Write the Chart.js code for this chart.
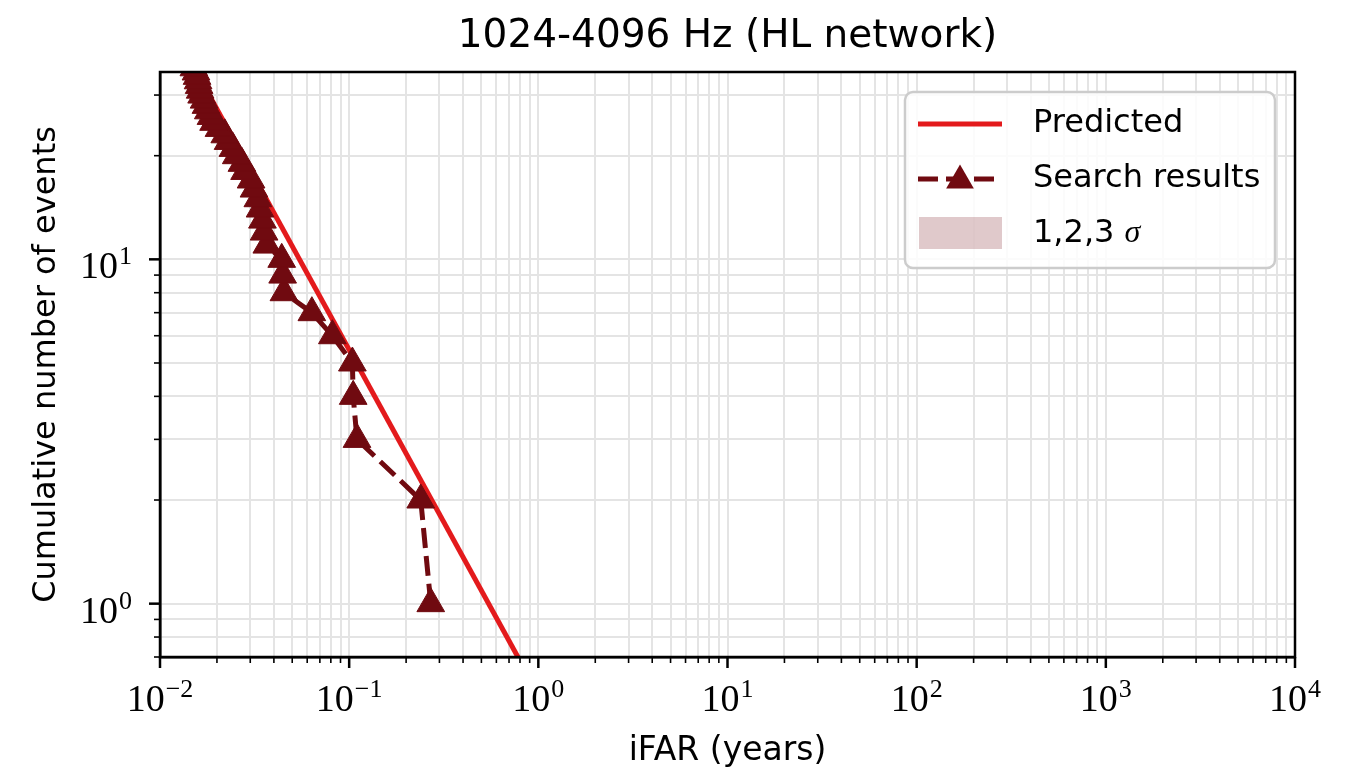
<!DOCTYPE html>
<html>
<head>
<meta charset="utf-8">
<script src="https://cdn.jsdelivr.net/npm/chart.js@4"></script>
<style>
html, body { margin: 0; padding: 0; background: #fff; }
</style>
</head>
<body>
<canvas id="myChart" width="1345" height="773"></canvas>
<script>
// search results: cumulative count vs iFAR (years)
const searchIfar = [0.270, 0.239, 0.110, 0.105, 0.104, 0.0815, 0.0635, 0.0452, 0.0445, 0.0440,
  0.0367, 0.0355, 0.0348, 0.0338, 0.0329, 0.0314, 0.0303, 0.0280, 0.0271, 0.0253,
  0.0243, 0.0229, 0.0220, 0.0205, 0.0192, 0.0186, 0.0180, 0.0175, 0.0171, 0.0166,
  0.0163, 0.0161, 0.0159, 0.0157, 0.0155, 0.0151, 0.0148];
const searchCount = [1, 2, 3, 4, 5, 6, 7, 8, 9, 10,
  11, 12, 13, 14, 15, 16, 17, 18, 19, 20,
  21, 22, 23, 24, 25, 26, 27, 28, 29, 30,
  31, 32, 33, 34, 35, 36, 37];

// predicted background line (end points)
const predIfar = [0.01, 1.0];
const predCount = [54.6, 0.546];

// axis ticks: powers of ten get a label "10" + exponent
const xMajor = [0.01, 0.1, 1, 10, 100, 1000, 10000];
const xMajorExp = ['−2', '−1', '0', '1', '2', '3', '4'];
const yMajor = [1, 10];
const yMajorExp = ['0', '1'];
const minorSteps = [2, 3, 4, 5, 6, 7, 8, 9];
const yMinorTicks = [0.7, 0.8, 0.9, 2, 3, 4, 5, 6, 7, 8, 9, 20, 30];

const titleText = '1024-4096 Hz (HL network)';
const labelPredicted = 'Predicted';
const labelSearch = 'Search results';
const labelSigma = '1,2,3 ';

const darkRed = 'rgb(112,10,16)';
const red = 'rgb(227,26,28)';
const sigmaFill = 'rgba(112,10,16,0.22)';

const sansFont = "'DejaVu Sans', sans-serif";
const serifFont = "'Liberation Serif', 'DejaVu Serif', serif";

let xTicks = [];
xMajor.forEach((m, i) => {
  xTicks.push(m);
  if (i < xMajor.length - 1) minorSteps.forEach(k => xTicks.push(+(m * k).toPrecision(3)));
});
let yTicks = yMajor.concat(yMinorTicks).sort((a, b) => a - b);

function isClose(a, b) { return Math.abs(a - b) / b < 1e-6; }

//exponente de la potencia de 10, o null si es menor
function majorExp(value, majors, exps) {
  for (let i = 0; i < majors.length; i++) {
    if (isClose(value, majors[i])) return exps[i];
  }
  return null;
}

//dibuja "10" con exponente; ax = alineacion ('center' o 'right')
function drawPow(ctx, exp, x, baseY, ax) {
  ctx.font = '38px ' + serifFont;
  const wb = ctx.measureText('10').width;
  ctx.font = '26px ' + serifFont;
  const we = ctx.measureText(exp).width;
  const total = wb + 1 + we;
  const left = ax === 'center' ? x - total / 2 : x - total;
  ctx.font = '38px ' + serifFont;
  ctx.fillText('10', left, baseY);
  ctx.font = '26px ' + serifFont;
  ctx.fillText(exp, left + wb + 1, baseY - 14);
}

//titulo, marcas de ejes, etiquetas y marco
const framePlugin = {
  id: 'framePlugin',
  afterDraw(chart) {
    const ctx = chart.ctx;
    const a = chart.chartArea;
    const xs = chart.scales.x, ys = chart.scales.y;
    ctx.save();
    ctx.fillStyle = '#000';
    ctx.font = '39px ' + sansFont;
    ctx.textAlign = 'center';
    ctx.textBaseline = 'alphabetic';
    ctx.fillText(titleText, (a.left + a.right) / 2, 47);
    ctx.textAlign = 'left';

    ctx.strokeStyle = '#000';
    xs.ticks.forEach(t => {
      const px = xs.getPixelForValue(t.value);
      const exp = majorExp(t.value, xMajor, xMajorExp);
      ctx.lineWidth = exp !== null ? 2.5 : 1.6;
      ctx.beginPath();
      ctx.moveTo(px, a.bottom);
      ctx.lineTo(px, a.bottom + (exp !== null ? 11 : 6));
      ctx.stroke();
      if (exp !== null) drawPow(ctx, exp, px, a.bottom + 54, 'center');
    });
    ys.ticks.forEach(t => {
      const py = ys.getPixelForValue(t.value);
      const exp = majorExp(t.value, yMajor, yMajorExp);
      ctx.lineWidth = exp !== null ? 2.5 : 1.6;
      ctx.beginPath();
      ctx.moveTo(a.left, py);
      ctx.lineTo(a.left - (exp !== null ? 11 : 6), py);
      ctx.stroke();
      if (exp !== null) drawPow(ctx, exp, a.left - 28, py + 19, 'right');
    });
    ctx.lineWidth = 2.5;
    ctx.strokeRect(a.left, a.top, a.right - a.left, a.bottom - a.top);
    ctx.restore();
  }
};

//leyenda dentro del grafico
const legendPlugin = {
  id: 'legendPlugin',
  afterDraw(chart) {
    const ctx = chart.ctx;
    const a = chart.chartArea;
    const w = 370, h = 176;
    const x0 = a.right - 20 - w, y0 = a.top + 20;
    ctx.save();
    ctx.fillStyle = 'rgba(255,255,255,0.85)';
    ctx.strokeStyle = '#cccccc';
    ctx.lineWidth = 2.5;
    ctx.beginPath();
    ctx.roundRect(x0, y0, w, h, 8);
    ctx.fill();
    ctx.stroke();

    const hx0 = x0 + 13, hx1 = x0 + 97, tx = x0 + 128;
    const rows = [y0 + 32, y0 + 87, y0 + 142];

    ctx.strokeStyle = red;
    ctx.lineWidth = 5;
    ctx.beginPath();
    ctx.moveTo(hx0, rows[0]);
    ctx.lineTo(hx1, rows[0]);
    ctx.stroke();

    ctx.strokeStyle = darkRed;
    ctx.setLineDash([20, 8]);
    ctx.beginPath();
    ctx.moveTo(hx0, rows[1]);
    ctx.lineTo(hx1, rows[1]);
    ctx.stroke();
    ctx.setLineDash([]);
    const mx = (hx0 + hx1) / 2, my = rows[1], r = 16;
    ctx.fillStyle = darkRed;
    ctx.beginPath();
    ctx.moveTo(mx, my - r * 0.9);
    ctx.lineTo(mx + r * 0.866, my + r * 0.6);
    ctx.lineTo(mx - r * 0.866, my + r * 0.6);
    ctx.closePath();
    ctx.fill();

    ctx.fillStyle = sigmaFill;
    ctx.fillRect(hx0 + 1, rows[2] - 17, hx1 - hx0 - 1, 32);

    ctx.fillStyle = '#000';
    ctx.textBaseline = 'middle';
    ctx.font = '32px ' + sansFont;
    ctx.fillText(labelPredicted, tx, rows[0]);
    ctx.fillText(labelSearch, tx, rows[1]);
    ctx.fillText(labelSigma, tx, rows[2]);
    const sw = ctx.measureText(labelSigma).width;
    ctx.font = 'italic 32px ' + serifFont;
    ctx.fillText('σ', tx + sw, rows[2]);
    ctx.restore();
  }
};

const chart = new Chart('myChart', {
  type: 'scatter',
  data: {
    datasets: [{
      label: labelSearch,
      data: searchIfar.map((v, i) => ({ x: v, y: searchCount[i] })),
      showLine: true,
      borderColor: darkRed,
      backgroundColor: darkRed,
      borderWidth: 5,
      borderDash: [20, 8],
      pointStyle: 'triangle',
      pointRadius: 16,
      pointHoverRadius: 16,
      pointBorderWidth: 1,
      order: 0
    }, {
      label: labelPredicted,
      data: predIfar.map((v, i) => ({ x: v, y: predCount[i] })),
      showLine: true,
      borderColor: red,
      backgroundColor: red,
      borderWidth: 5,
      pointRadius: 0,
      pointHoverRadius: 0,
      order: 1
    }, {
      label: labelSigma + 'σ',
      data: [],
      backgroundColor: sigmaFill,
      borderWidth: 0,
      order: 2
    }]
  },
  options: {
    responsive: false,
    animation: false,
    devicePixelRatio: 1,
    layout: { padding: { left: 0, right: 50, top: 72, bottom: 0 } },
    plugins: {
      legend: { display: false },
      tooltip: { enabled: false },
      title: { display: false }
    },
    scales: {
      x: {
        type: 'logarithmic',
        min: 0.01,
        max: 10000,
        afterBuildTicks: s => { s.ticks = xTicks.map(v => ({ value: v })); },
        afterFit: s => { s.height = 116; },
        grid: { color: '#e4e4e4', lineWidth: 2, drawTicks: false },
        border: { color: '#000', width: 2.5 },
        ticks: { display: false, autoSkip: false },
        title: {
          display: true,
          text: 'iFAR (years)',
          color: '#000',
          font: { family: sansFont, size: 33 },
          padding: { top: 0, bottom: 2 }
        }
      },
      y: {
        type: 'logarithmic',
        min: 0.7,
        max: 35,
        afterBuildTicks: s => { s.ticks = yTicks.map(v => ({ value: v })); },
        afterFit: s => { s.width = 160; },
        grid: { color: '#e4e4e4', lineWidth: 2, drawTicks: false },
        border: { color: '#000', width: 2.5 },
        ticks: { display: false, autoSkip: false },
        title: {
          display: true,
          text: 'Cumulative number of events',
          color: '#000',
          font: { family: sansFont, size: 32 },
          padding: { top: 27, bottom: 0 }
        }
      }
    }
  },
  plugins: [framePlugin, legendPlugin]
});
</script>
</body>
</html>
